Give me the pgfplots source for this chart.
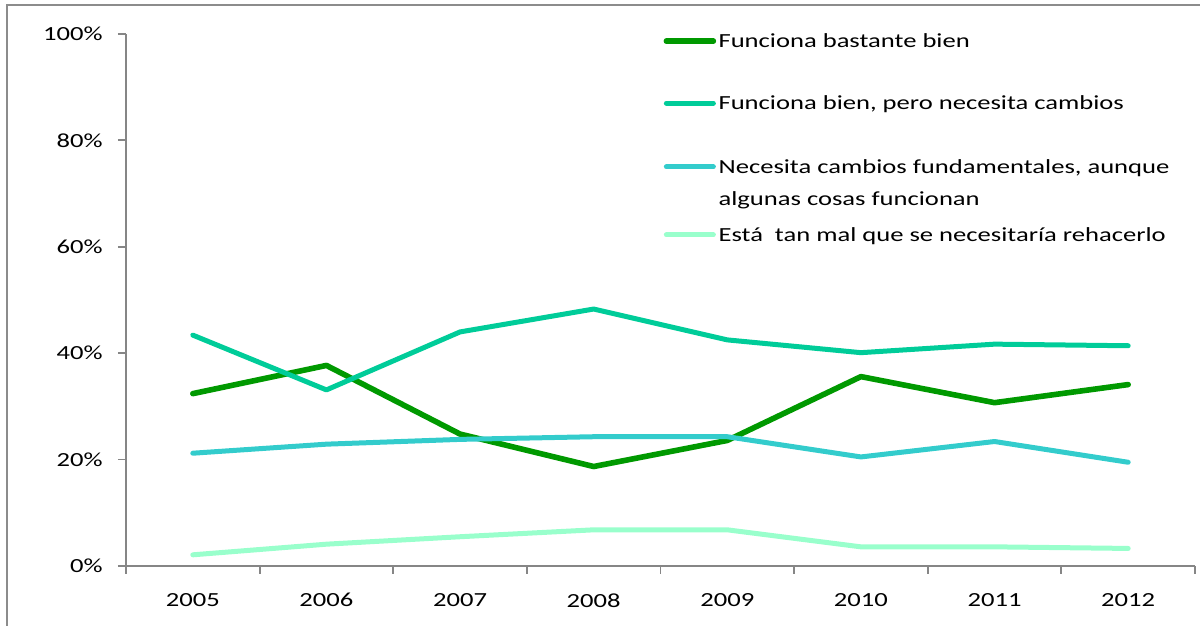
\documentclass[border=0pt]{standalone}
\usepackage{pgfplots}
\pgfplotsset{compat=1.18}
\usepackage{fontspec}
\setmainfont{Carlito}[FakeStretch=1.33]

\definecolor{cBastante}{RGB}{0,153,0}
\definecolor{cCambios}{RGB}{0,204,153}
\definecolor{cFund}{RGB}{51,204,204}
\definecolor{cMal}{RGB}{153,255,204}
\definecolor{axisgray}{RGB}{134,134,134}

\begin{document}
\begin{tikzpicture}
\begin{axis}[
  scale only axis,
  width=534.5pt, height=266pt,
  xmin=-0.5, xmax=7.5,
  ymin=0, ymax=100,
  axis x line*=bottom, axis y line*=left,
  axis line style={axisgray, line width=0.9pt},
  tick style={axisgray, line width=0.9pt},
  tick align=outside,
  major tick length=4pt,
  xtick={-0.5,0.5,...,7.5},
  xticklabels={},
  extra x ticks={0,1,2,3,4,5,6,7},
  extra x tick labels={2005,2006,2007,2008,2009,2010,2011,2012},
  extra x tick style={major tick length=0pt},
  ytick={0,20,40,60,80,100},
  yticklabel={\pgfmathprintnumber{\tick}\%},
  /pgf/number format/assume math mode=true,
  x tick label style={anchor=north, inner sep=0pt, yshift=-13.5pt},
  y tick label style={anchor=east, inner sep=0pt, xshift=-7.5pt},
  every axis plot/.append style={line cap=round, line join=round, line width=2.5pt},
  legend image code/.code={\draw[#1] (0pt,3.3pt) -- (23.5pt,3.3pt);},
  legend style={at={(axis cs:3.52,100.49)}, anchor=north west,
    draw=none, fill=none, inner sep=0pt, row sep=0pt, column sep=1.2pt,
    nodes={inner sep=0pt, text depth=},
    cells={anchor=base west}},
]
\addplot[cBastante, line width=2.8pt] coordinates {(0,32.4) (1,37.7) (2,24.8) (3,18.7) (4,23.6) (5,35.6) (6,30.7) (7,34.1)};
\addlegendentry{\rule[-23pt]{0pt}{31pt}Funciona bastante bien}
\addplot[cCambios] coordinates {(0,43.4) (1,33.1) (2,44.0) (3,48.3) (4,42.5) (5,40.1) (6,41.7) (7,41.4)};
\addlegendentry{\rule[-23.5pt]{0pt}{31.5pt}Funciona bien, pero necesita cambios}
\addplot[cFund] coordinates {(0,21.2) (1,22.9) (2,23.8) (3,24.3) (4,24.3) (5,20.5) (6,23.4) (7,19.5)};
\addlegendentry{\rule[-26pt]{0pt}{34pt}\begin{tabular}[t]{@{}l@{}}Necesita cambios fundamentales, aunque\\[4pt]algunas cosas funcionan\end{tabular}}
\addplot[cMal] coordinates {(0,2.1) (1,4.1) (2,5.5) (3,6.8) (4,6.8) (5,3.6) (6,3.6) (7,3.3)};
\addlegendentry{\rule[-3pt]{0pt}{11pt}Está\ \ tan mal que se necesitaría rehacerlo}
\coordinate (sw) at (rel axis cs:0,0);
\coordinate (nw) at (rel axis cs:0,1);
\coordinate (ne) at (rel axis cs:1,1);
\end{axis}
\draw[black!45, line width=0.8pt] ([shift={(-59.5pt,-60pt)}]sw) -- ([shift={(-59.5pt,14.5pt)}]nw) -- ([shift={(20pt,14.5pt)}]ne);
\pgfresetboundingbox
\path ([shift={(-63pt,-30pt)}]sw) rectangle ([shift={(2.5pt,17pt)}]ne);
\end{tikzpicture}
\end{document}
